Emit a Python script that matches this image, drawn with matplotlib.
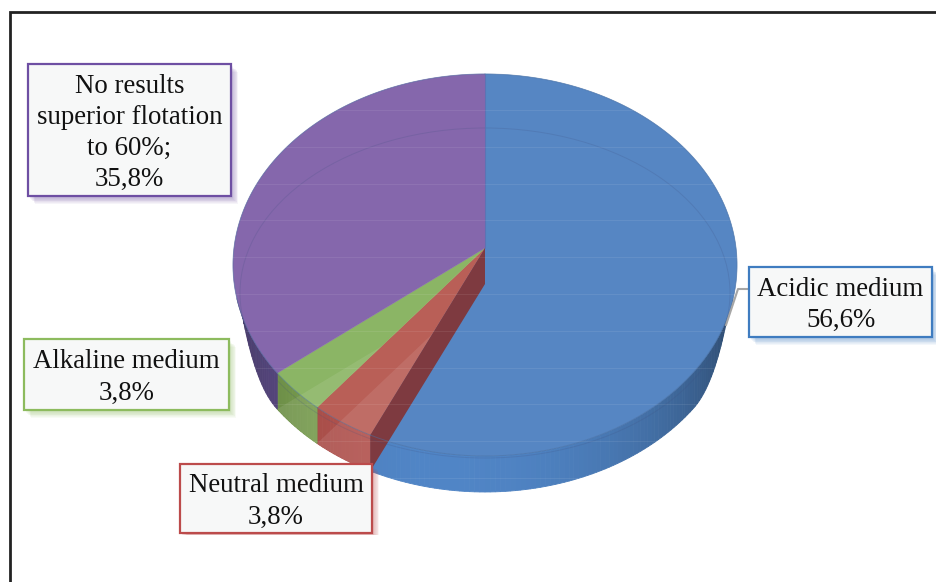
import numpy as np
import matplotlib
matplotlib.use("Agg")
import matplotlib.pyplot as plt
from matplotlib.patches import Rectangle, Polygon, Ellipse

# ---- data ----
categories = ["Acidic medium", "Neutral medium", "Alkaline medium", "No results superior flotation to 60%"]
values = [56.6, 3.8, 3.8, 35.8]
value_labels = ["56,6%", "3,8%", "3,8%", "35,8%"]
label_lines = ["Acidic medium", "Neutral medium", "Alkaline medium",
               "No results\nsuperior flotation\nto 60%;"]

# ---- styles ----
top_colors = ["#5686C3", "#B95F57", "#8BB565", "#8567AC"]
wall_colors = ["#5085C6", "#B5544F", "#7FA653", "#62508F"]
edge_colors = ["#3F7CC0", "#BC4B4B", "#8DBB5E", "#6E4FA3"]
boxes = [(749, 267, 183, 70), (180, 464, 192, 69), (24, 339, 205, 71), (28, 64, 203, 132)]

CX, CY, RX, RY = 485, 265, 252, 191   # ellipse of the top face
AX, AY = 485, 248                     # apex of the slices
DEPTH = 36

fig = plt.figure(figsize=(9.36, 5.82), dpi=100, facecolor="white")
ax = fig.add_axes([0, 0, 1, 1])
ax.set_xlim(0, 936)
ax.set_ylim(582, 0)
ax.axis("off")


def warp(theta):
    """Perspective shift of the slice angles (degrees clockwise from the top)."""
    return theta + 4.5 * np.sin(np.radians(2 * theta))


def rim(a, dy=0.0):
    r = np.radians(a)
    return CX + RX * np.sin(r), CY - RY * np.cos(r) + dy


def wall_depth(a):
    """Wall height along the front rim: it fades out smoothly towards both sides."""
    off = np.abs(np.asarray(a, dtype=float) - 180)
    return DEPTH * np.sin(np.pi / 2 * np.clip((74 - off) / 18, 0, 1))


def sector(t0, t1, dy=0.0):
    a = warp(np.linspace(t0, t1, 200))
    x, y = rim(a, dy)
    return np.column_stack([np.r_[AX, x], np.r_[AY + dy, y]])


bounds = np.r_[0, np.cumsum(values)] * 3.6 / (sum(values) / 100)

# side wall, shaded with the angle
for i in range(len(values)):
    t0, t1 = bounds[i], bounds[i + 1]
    grid = np.arange(t0, t1 + 1, 1.0)
    grid = np.r_[grid[grid < t1], t1]
    base = np.array(matplotlib.colors.to_rgb(wall_colors[i]))
    for p, q in zip(grid[:-1], grid[1:]):
        a0, a1 = warp(p), warp(q)
        mid = (a0 + a1) / 2
        if not 100 <= mid <= 260:
            continue
        x0, y0 = rim(a0)
        x1, y1 = rim(a1)
        f = 0.5 + 0.5 * max(np.cos(np.radians(mid - 190)), 0) ** 0.9
        d0, d1 = wall_depth(a0), wall_depth(a1)
        ax.fill([x0, x1, x1, x0], [y0, y1, y1 + d1, y0 + d0],
                color=base * f, lw=0.6, zorder=2)

# top faces
for i in range(len(values)):
    ax.fill(*sector(bounds[i], bounds[i + 1]).T, color=top_colors[i], lw=0.3, zorder=3)

# see-through look of the small slices: bottom face seen through the top and wall
for i in (1, 2):
    t0, t1 = bounds[i], bounds[i + 1]
    arc = np.column_stack(rim(warp(np.linspace(t0, t1, 60))))
    low = arc + [0, DEPTH]
    outline = np.vstack([[AX, AY], arc[:1], low, arc[-1:]])
    clip = Polygon(outline, closed=True, transform=ax.transData)
    pale = Polygon(sector(t0, t1, DEPTH), closed=True, fc="white", alpha=0.09, lw=0, zorder=4)
    ax.add_patch(pale)
    pale.set_clip_path(clip)

# dark cut face between the red and the blue slice
rx0, ry0 = rim(warp(bounds[1]))
ax.add_patch(Polygon([[AX, AY], [AX, AY + DEPTH], [rx0, ry0 + DEPTH], [rx0, ry0]], closed=True,
                     fc="#7E3A40", lw=0, zorder=5))

# slice edges and the thin inner ellipse
for i in range(len(values)):
    arc = np.column_stack(rim(warp(np.linspace(bounds[i], bounds[i + 1], 120))))
    ax.plot(*arc.T, color="#4A6FA0", lw=0.7, alpha=0.5, zorder=6)
ax.add_patch(Ellipse((CX, 293), 490, 330, fc="none", ec="#3F4F80", lw=0.7, alpha=0.2, zorder=6))
ax.plot([AX, AX], [75, AY], color="#5B6FB0", lw=0.8, alpha=0.7, zorder=6)

# faint light scan lines of the source picture
for y in np.arange(110, 520, 36.8):
    ax.plot([232, 737], [y, y], color="white", lw=0.8, alpha=0.08, zorder=6)

# leader of the blue slice
ax.plot([749, 738, 726], [289, 289, 325], color="#A6A6A6", lw=1.5, zorder=6)

# labels
for i in range(len(values)):
    x, y, w, h = boxes[i]
    for k in range(9, 0, -1):
        ax.add_patch(Rectangle((x + k * 0.8, y + k * 0.9), w, h, fc=edge_colors[i],
                               alpha=0.06, lw=0, zorder=7))
    ax.add_patch(Rectangle((x, y), w, h, fc="#F7F8F8", ec=edge_colors[i], lw=1.6, zorder=8))
    ax.text(x + w / 2, y + h / 2 + 3, label_lines[i] + "\n" + value_labels[i],
            ha="center", va="center", family="Liberation Serif", fontsize=19.4,
            color="#111111", linespacing=1.32, zorder=9)

# white cover: the source image ends below the lowest label
ax.add_patch(Rectangle((160, 535), 240, 12, fc="white", lw=0, zorder=7.5))

# frame of the source picture
ax.plot([10, 10, 936], [582, 12, 12], color="#222222", lw=2.0, solid_joinstyle="miter", zorder=10)

fig.savefig("out.png", dpi=100, facecolor="white")
